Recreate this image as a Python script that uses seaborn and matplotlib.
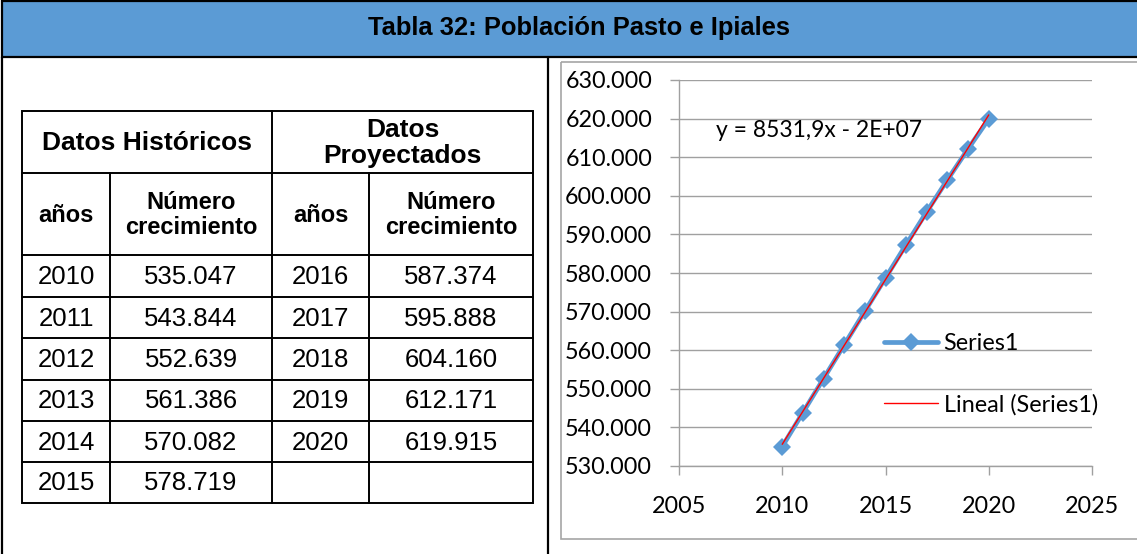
import matplotlib
matplotlib.use("Agg")
import matplotlib.pyplot as plt
import pandas as pd
import seaborn as sns
from matplotlib.patches import Rectangle
from matplotlib.ticker import FuncFormatter, MultipleLocator

# datos de la tabla
hist_years = [2010, 2011, 2012, 2013, 2014, 2015]
hist_values = [535047, 543844, 552639, 561386, 570082, 578719]
proj_years = [2016, 2017, 2018, 2019, 2020]
proj_values = [587374, 595888, 604160, 612171, 619915]

title = "Tabla 32: Población Pasto e Ipiales"
equation = "y = 8531,9x - 2E+07"
series_name = "Series1"
trend_name = "Lineal (Series1)"


def miles(v):
    return f"{v:,.0f}".replace(",", ".")


df = pd.DataFrame({"anio": hist_years + proj_years,
                   "valor": hist_values + proj_values})

sns.set_theme(style="white")
plt.rcParams["font.family"] = ["Lato", "DejaVu Sans"]
plt.rcParams["text.color"] = "black"
ARIAL = ["Liberation Sans", "DejaVu Sans"]

fig = plt.figure(figsize=(11.37, 5.54), dpi=100)

# capa de fondo en pixeles: banda del titulo, marcos y tabla
bg = fig.add_axes([0, 0, 1, 1])
bg.set_xlim(0, 1137)
bg.set_ylim(554, 0)
bg.axis("off")

bg.add_patch(Rectangle((2, 1), 1140, 56, facecolor="#5B9BD5",
                       edgecolor="black", lw=1.6))
bg.text(579, 28, title, family=ARIAL, fontsize=18.4, fontweight="bold",
        ha="center", va="center")
bg.plot([2, 2], [57, 554], color="black", lw=1.6)
bg.plot([548, 548], [57, 554], color="black", lw=1.6)
bg.add_patch(Rectangle((561, 62), 600, 477, fill=False,
                       edgecolor="#A6A6A6", lw=1.2))

# tabla
cols = [22, 110, 272, 369, 533]
rows = [111, 173, 255, 297, 338, 380, 421, 462, 503]
lw_t = 1.4
bg.add_patch(Rectangle((cols[0], rows[0]), cols[-1] - cols[0],
                       rows[-1] - rows[0], fill=False, edgecolor="black", lw=lw_t))
for y in rows[1:-1]:
    bg.plot([cols[0], cols[-1]], [y, y], color="black", lw=lw_t)
bg.plot([cols[2], cols[2]], [rows[0], rows[-1]], color="black", lw=lw_t)
for x in (cols[1], cols[3]):
    bg.plot([x, x], [rows[1], rows[-1]], color="black", lw=lw_t)


def cell(c0, c1, r0, r1, txt, bold=False, size=18.5):
    bg.text((cols[c0] + cols[c1]) / 2, (rows[r0] + rows[r1]) / 2 + 1, txt,
            family=ARIAL, fontsize=size, ha="center", va="center",
            fontweight="bold" if bold else "normal", linespacing=1.12)


cell(0, 2, 0, 1, "Datos Históricos", True, 19)
cell(2, 4, 0, 1, "Datos\nProyectados", True, 19)
for c in (0, 2):
    cell(c, c + 1, 1, 2, "años", True, 17)
    cell(c + 1, c + 2, 1, 2, "Número\ncrecimiento", True, 17)
for i, (yr, v) in enumerate(zip(hist_years, hist_values)):
    cell(0, 1, 2 + i, 3 + i, str(yr))
    cell(1, 2, 2 + i, 3 + i, miles(v))
for i, (yr, v) in enumerate(zip(proj_years, proj_values)):
    cell(2, 3, 2 + i, 3 + i, str(yr))
    cell(3, 4, 2 + i, 3 + i, miles(v))

# grafico
ax = fig.add_axes([679 / 1137, 1 - 466 / 554, 413 / 1137, 386 / 554])
sns.lineplot(data=df, x="anio", y="valor", color="#5B9BD5", lw=3.4,
             marker="D", markersize=9.5, markeredgewidth=0,
             label=series_name, ax=ax)
sns.regplot(data=df, x="anio", y="valor", scatter=False, ci=None,
            truncate=True, color="red", line_kws={"lw": 1},
            label=trend_name, ax=ax)

ax.set_xlim(2005, 2025)
ax.set_ylim(530000, 630000)
ax.xaxis.set_major_locator(MultipleLocator(5))
ax.yaxis.set_major_locator(MultipleLocator(10000))
ax.yaxis.set_major_formatter(FuncFormatter(lambda v, p: miles(v)))
ax.set_xlabel("")
ax.set_ylabel("")
ax.grid(axis="y", color="#A0A0A0", lw=1)
ax.set_axisbelow(True)
for s in ("top", "right"):
    ax.spines[s].set_visible(False)
for s in ("left", "bottom"):
    ax.spines[s].set_color("#A0A0A0")
    ax.spines[s].set_linewidth(1)
ax.tick_params(axis="both", direction="out", length=6.3, width=1,
               color="#A0A0A0", labelsize=16.8, labelcolor="black")
ax.tick_params(axis="y", pad=13, left=True)
ax.tick_params(axis="x", pad=15.5, bottom=True)

ax.text(2006.8, 617000, equation, fontsize=16.5, ha="left", va="center")
ax.legend(loc="upper left", bbox_to_anchor=(884 / 1137, 1 - 333 / 554),
          bbox_transform=fig.transFigure, frameon=False, fontsize=16.8,
          handlelength=2.3, handletextpad=0.25, labelspacing=1.7,
          borderpad=0, borderaxespad=0)

fig.savefig("out.png", dpi=100)
